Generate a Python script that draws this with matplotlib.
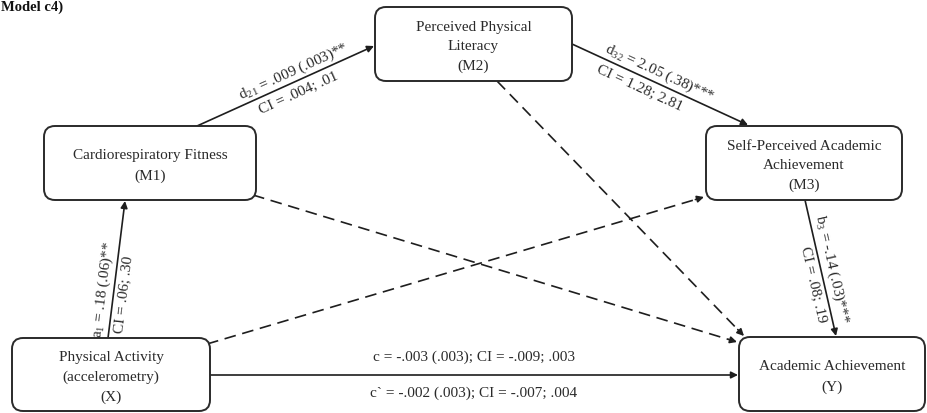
import numpy as np
import matplotlib
matplotlib.use("Agg")
import matplotlib.pyplot as plt
from matplotlib.patches import FancyBboxPatch

plt.rcParams["font.family"] = ["Liberation Serif", "DejaVu Serif"]
plt.rcParams["mathtext.fontset"] = "custom"
plt.rcParams["mathtext.rm"] = "Liberation Serif"
plt.rcParams["mathtext.it"] = "Liberation Serif:italic"

# Node labels
node_names = ["M2", "M1", "M3", "X", "Y"]
node_labels = [
    "Perceived Physical\nLiteracy\n(M2)",
    "Cardiorespiratory Fitness\n(M1)",
    "Self-Perceived Academic\nAchievement\n(M3)",
    "Physical Activity\n(accelerometry)\n(X)",
    "Academic Achievement\n(Y)",
]

# Path coefficients
path_coef = ["a$\\mathregular{_1}$ = .18 (.06)**",
             "d$\\mathregular{_{21}}$ = .009 (.003)**",
             "d$\\mathregular{_{32}}$ = 2.05 (.38)***",
             "b$\\mathregular{_3}$ = -.14 (.03)***"]
path_ci = ["CI = .06; .30", "CI = .004; .01", "CI = 1.28; 2.81", "CI = .08; .19"]
total_effect = "c = -.003 (.003); CI = -.009; .003"
direct_effect = "c` = -.002 (.003); CI = -.007; .004"
title = "Model c4)"

# layout in pixel units (x0, y0, x1, y1), y grows downward
boxes = {
    "M2": (375, 8, 572, 82),
    "M1": (44, 127, 256, 201),
    "M3": (706, 127, 902, 201),
    "X": (12, 339, 210, 412),
    "Y": (739, 338, 925, 412),
}
solid_paths = [((108, 339), (125, 202)),
               ((197, 127), (374, 47)),
               ((572, 45), (748, 126)),
               ((805, 201), (836, 337))]
label_pos = [(0.35, 0.33), (0.57, 0.55), (0.47, 0.41), (0.52, 0.6)]
dashed_paths = [((253, 196), (737, 343)),
                ((207, 345), (704, 198)),
                ((497, 82), (744, 337))]
c_path = ((210, 376), (738, 376))

INK = "#1e1e1e"
FS = 11

fig = plt.figure(figsize=(9.27, 4.14), dpi=100)
ax = fig.add_axes([0, 0, 1, 1])
ax.set_xlim(0, 927)
ax.set_ylim(414, 0)
ax.axis("off")

for name, label in zip(node_names, node_labels):
    x0, y0, x1, y1 = boxes[name]
    ax.add_patch(FancyBboxPatch((x0, y0), x1 - x0, y1 - y0,
                                boxstyle="round,pad=0,rounding_size=11",
                                fc="white", ec="#2a2a2a", lw=1.4, zorder=2))
    ax.text((x0 + x1) / 2, (y0 + y1) / 2 + 2, label, ha="center", va="center",
            fontsize=FS, color="#2a2a2a", linespacing=1.65, zorder=3)


def arrow(p0, p1, dashed=False):
    if dashed:
        d = np.array(p1, float) - np.array(p0, float)
        u = d / np.hypot(*d)
        back = np.array(p1) - u * 9
        ax.plot([p0[0], back[0]], [p0[1], back[1]], color=INK, lw=1.2,
                linestyle=(0, (7, 4)), zorder=1)
        ax.annotate("", xy=p1, xytext=back,
                    arrowprops=dict(arrowstyle="-|>", color=INK, lw=1.2,
                                    shrinkA=0, shrinkB=0, mutation_scale=10))
    else:
        ax.annotate("", xy=p1, xytext=p0,
                    arrowprops=dict(arrowstyle="-|>", color=INK, lw=1.2,
                                    shrinkA=0, shrinkB=0, mutation_scale=10),
                    zorder=1)


def path_label(p0, p1, text, t, off):
    p0 = np.array(p0, float)
    p1 = np.array(p1, float)
    d = p1 - p0
    u = d / np.hypot(*d)
    up = np.array([u[1], -u[0]])
    pt = p0 + d * t + up * off
    rot = np.degrees(np.arctan2(-d[1], d[0]))
    ax.text(pt[0], pt[1], text, rotation=rot, rotation_mode="anchor",
            ha="center", va="center", fontsize=FS, color="#2a2a2a")


for (p0, p1), coef, ci, (tc, ti) in zip(solid_paths, path_coef, path_ci, label_pos):
    arrow(p0, p1)
    path_label(p0, p1, coef, tc, 11)
    path_label(p0, p1, ci, ti, -11)

for p0, p1 in dashed_paths:
    arrow(p0, p1, dashed=True)

arrow(*c_path)
cx = (c_path[0][0] + c_path[1][0]) / 2
ax.text(cx, c_path[0][1] - 19, total_effect, ha="center", va="center",
        fontsize=FS, color="#2a2a2a")
ax.text(cx, c_path[0][1] + 17, direct_effect, ha="center", va="center",
        fontsize=FS, color="#2a2a2a")

ax.text(1, 1, title, ha="left", va="top", fontsize=10.5, fontweight="bold",
        color="#111111")

fig.savefig("out.png", dpi=100)
